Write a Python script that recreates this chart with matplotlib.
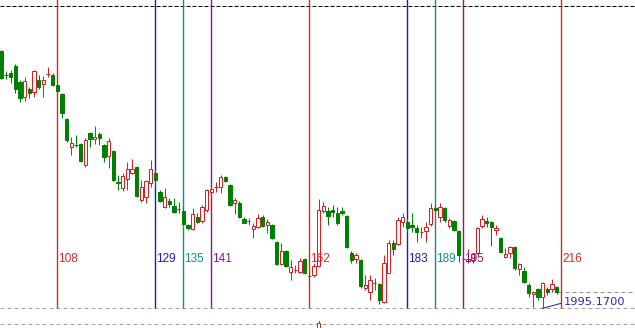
import matplotlib
matplotlib.use("Agg")
import matplotlib.pyplot as plt
from matplotlib.patches import Rectangle

# ---- price data (bar index, open, high, low, close) ----
bar_index = list(range(96, 216))
opens = [2020.90, 2018.55, 2018.67, 2019.40, 2017.83, 2016.27, 2017.07, 2016.77, 2018.00, 2017.55,
         2018.55, 2018.53, 2017.50, 2016.60, 2014.07, 2011.27, 2011.57, 2011.60, 2009.50, 2012.67,
         2012.05, 2012.57, 2011.50, 2010.43, 2010.90, 2007.83, 2007.20, 2008.10, 2008.73, 2009.30,
         2006.00, 2006.33, 2007.67, 2008.73, 2006.83, 2005.27, 2005.93, 2005.40, 2005.17, 2004.93,
         2003.50, 2003.07, 2004.33, 2003.93, 2005.00, 2006.77, 2007.25, 2007.27, 2008.27, 2007.50,
         2005.67, 2005.73, 2004.07, 2003.80, 2003.07, 2003.33, 2004.27, 2003.47, 2003.50, 2001.83,
         1999.60, 2000.93, 1998.83, 1998.97, 1998.83, 2000.07, 1998.43, 1998.50, 1999.40, 2004.93,
         2004.93, 2005.00, 2004.67, 2004.93, 2004.40, 2000.67, 2000.07, 2000.00, 1997.17, 1996.83,
         1997.63, 1997.60, 1995.83, 1998.73, 2001.73, 2001.60, 2003.83, 2003.83, 2003.50, 2003.17,
         2002.73, 2002.93, 2003.60, 2005.20, 2004.27, 2005.17, 2003.43, 2003.90, 2002.93, 2000.10,
         1999.93, 2000.00, 2000.73, 2003.40, 2003.90, 2003.83, 2003.00, 2002.17, 2000.33, 2000.67,
         2001.27, 1999.07, 1998.90, 1997.50, 1996.55, 1997.05, 1996.27, 1997.10, 1997.07, 1997.33]
highs = [2021.00, 2018.90, 2019.00, 2019.60, 2018.00, 2018.27, 2017.33, 2019.00, 2018.50, 2018.40,
         2019.30, 2018.65, 2017.60, 2016.70, 2014.15, 2012.27, 2012.50, 2011.70, 2012.15, 2012.75,
         2013.35, 2012.83, 2011.60, 2012.20, 2011.00, 2008.50, 2008.67, 2009.83, 2010.05, 2009.40,
         2008.00, 2008.00, 2010.00, 2009.00, 2006.95, 2007.17, 2006.17, 2006.17, 2005.83, 2005.33,
         2003.60, 2005.17, 2004.67, 2005.50, 2007.07, 2007.40, 2007.80, 2008.45, 2008.40, 2007.60,
         2006.17, 2005.85, 2004.33, 2004.17, 2003.67, 2004.60, 2004.50, 2004.07, 2003.60, 2001.90,
         2001.67, 2001.00, 2000.00, 1999.50, 2000.17, 2000.20, 1998.67, 1999.67, 2006.07, 2005.83,
         2005.33, 2005.50, 2005.33, 2005.33, 2004.50, 2000.93, 2000.73, 2000.10, 1998.50, 1998.50,
         1998.17, 1997.70, 2000.50, 2002.00, 2002.00, 2004.33, 2004.67, 2004.17, 2004.67, 2003.50,
         2003.33, 2003.83, 2005.67, 2005.50, 2005.67, 2005.33, 2004.17, 2004.00, 2003.00, 2000.50,
         2001.07, 2000.67, 2003.30, 2004.50, 2004.33, 2003.90, 2003.50, 2002.25, 2001.17, 2001.40,
         2001.35, 1999.73, 1999.33, 1997.67, 1996.93, 1997.17, 1997.83, 1997.33, 1998.07, 1997.40]
lows = [2018.10, 2018.10, 2017.70, 2016.70, 2015.83, 2015.93, 2016.17, 2016.33, 2017.07, 2016.33,
        2018.27, 2017.40, 2016.80, 2014.15, 2011.83, 2010.50, 2011.30, 2009.80, 2009.30, 2011.33,
        2011.60, 2011.50, 2009.80, 2009.15, 2007.90, 2007.00, 2006.90, 2007.00, 2008.60, 2006.27,
        2005.83, 2005.73, 2007.27, 2007.33, 2005.83, 2005.17, 2005.33, 2004.67, 2004.73, 2003.50,
        2003.00, 2003.00, 2003.67, 2003.67, 2004.80, 2006.40, 2006.80, 2006.70, 2007.80, 2005.40,
        2004.60, 2004.20, 2003.65, 2003.50, 2002.17, 2003.17, 2003.33, 2002.73, 2002.10, 1999.50,
        1999.50, 1999.30, 1998.00, 1998.67, 1998.67, 1998.60, 1998.00, 1998.33, 1999.30, 2004.67,
        2003.50, 2004.33, 2003.50, 2004.50, 2001.17, 1999.67, 1999.67, 1997.17, 1997.00, 1996.00,
        1997.00, 1995.60, 1995.70, 1998.67, 2000.50, 2001.50, 2003.33, 2002.83, 2002.83, 2001.83,
        2002.17, 2001.83, 2003.40, 2004.80, 2003.83, 2003.83, 2003.17, 2002.93, 1999.83, 1999.50,
        1999.67, 1999.67, 2000.60, 2003.17, 2003.33, 2001.40, 2002.50, 2000.75, 2000.17, 2000.17,
        1999.00, 1998.50, 1997.67, 1996.33, 1995.33, 1996.00, 1995.17, 1996.50, 1996.83, 1996.60]
closes = [2018.20, 2018.45, 2018.27, 2017.10, 2016.17, 2017.90, 2016.73, 2018.85, 2017.33, 2017.95,
          2018.60, 2017.50, 2016.93, 2014.65, 2012.00, 2011.73, 2011.45, 2009.93, 2012.00, 2012.07,
          2012.30, 2012.22, 2010.33, 2011.90, 2008.00, 2007.70, 2008.40, 2009.05, 2009.07, 2006.40,
          2007.33, 2007.93, 2009.07, 2008.00, 2005.93, 2006.27, 2005.60, 2004.83, 2005.07, 2003.60,
          2003.17, 2004.60, 2003.83, 2005.27, 2006.95, 2007.10, 2007.33, 2008.27, 2007.90, 2005.45,
          2006.00, 2004.27, 2003.73, 2003.90, 2003.40, 2004.17, 2003.43, 2003.80, 2002.17, 1999.60,
          2000.93, 1999.40, 1999.33, 1999.03, 1999.93, 1998.67, 1998.37, 1999.40, 2005.00, 2005.40,
          2004.43, 2004.83, 2003.67, 2004.67, 2001.33, 2000.00, 2000.50, 1997.40, 1997.50, 1998.00,
          1997.67, 1996.00, 1999.67, 2001.73, 2001.07, 2004.00, 2004.33, 2003.17, 2003.33, 2002.83,
          2002.83, 2003.33, 2005.17, 2005.00, 2005.33, 2004.00, 2004.00, 2003.00, 2000.50, 2000.03,
          2000.07, 2000.57, 2003.17, 2004.07, 2003.73, 2003.33, 2003.23, 2000.83, 2000.57, 2001.27,
          1999.17, 1999.60, 1997.77, 1996.67, 1996.83, 1996.27, 1997.73, 1996.77, 1997.55, 1996.83]

# ---- time-cycle markers ----
cycle_bars = [108, 129, 135, 141, 162, 183, 189, 195, 216]
cycle_colors = ["#d42a2a", "#1c1cb4", "#128c8c", "#8a168a", "#d42a2a",
                "#1c1cb4", "#128c8c", "#8a168a", "#d42a2a"]

low_price = 1995.17
low_bar = 212
top_level = 2025.40
lower_level = 1993.60
sub_candle = (164, 1993.73, 1993.90, 1992.90, 1992.95)  # bar, open, high, low, close

BULL = "#d02424"
BEAR = "#008000"

plt.rcParams["lines.scale_dashes"] = False

fig = plt.figure(figsize=(6.35, 3.28), dpi=100)
ax = fig.add_axes([0, 0, 1, 1])
ax.set_xlim(95.72, 231.8)
ax.set_ylim(1993.2, 2026.0)
ax.axis("off")

px = 0.72  # one pixel in points
body_w = 0.72

# candles
for i, o, h, l, c in zip(bar_index, opens, highs, lows, closes):
    col = BULL if c > o else BEAR
    ax.plot([i, i], [l, h], color=col, lw=px, zorder=3, solid_capstyle="butt")
    lo, hi = min(o, c), max(o, c)
    if hi - lo < 0.12:
        ax.plot([i - body_w / 2, i + body_w / 2], [(o + c) / 2] * 2, color=col, lw=px,
                zorder=4, solid_capstyle="butt")
    elif c > o:
        ax.add_patch(Rectangle((i - body_w / 2, lo), body_w, hi - lo, facecolor="white",
                               edgecolor=col, lw=px, zorder=4))
    else:
        ax.add_patch(Rectangle((i - body_w / 2, lo), body_w, hi - lo, facecolor=col,
                               edgecolor=col, lw=px, zorder=4))

# small candle peeking into the lower pane
sb, so, sh, sl, sc = sub_candle
ax.plot([sb, sb], [sl, sh], color=BULL, lw=px, zorder=3)
ax.add_patch(Rectangle((sb - body_w / 2, sc), body_w, so - sc, facecolor="white",
                       edgecolor=BULL, lw=px, zorder=4))

# cycle lines and labels
for b, col in zip(cycle_bars, cycle_colors):
    ax.plot([b, b], [low_price, 2026.5], color=col, lw=1.0, zorder=2,
            solid_capstyle="butt", snap=True)
    ax.text(b + 0.25, 2000.1, str(b), color=col, fontsize=8.5, family="Liberation Sans",
            ha="left", va="center", zorder=6)

# horizontal levels
ax.axhline(top_level, color="black", lw=px, ls=(0, (4 * px, 2 * px)), zorder=1)
gray_dash = (0, (4 * px, 3 * px))
ax.axhline(low_price, color="#a0a0a0", lw=px, ls=gray_dash, zorder=1)
ax.axhline(lower_level, color="#a0a0a0", lw=px, ls=gray_dash, zorder=1)
ax.plot([bar_index[-1] + 0.4, 231.8], [closes[-1]] * 2, color="#909090", lw=px, ls=gray_dash,
        zorder=1)

# low price marker
ax.plot([low_bar, cycle_bars[-1]], [low_price, 1995.67], color="#2020c0", lw=px, zorder=5)
ax.text(cycle_bars[-1] + 0.5, 1995.75, f"{low_price:.4f}", color="#2828c0", fontsize=8.2,
        family="DejaVu Sans", ha="left", va="center", zorder=6)

fig.savefig("out.png", dpi=100)
